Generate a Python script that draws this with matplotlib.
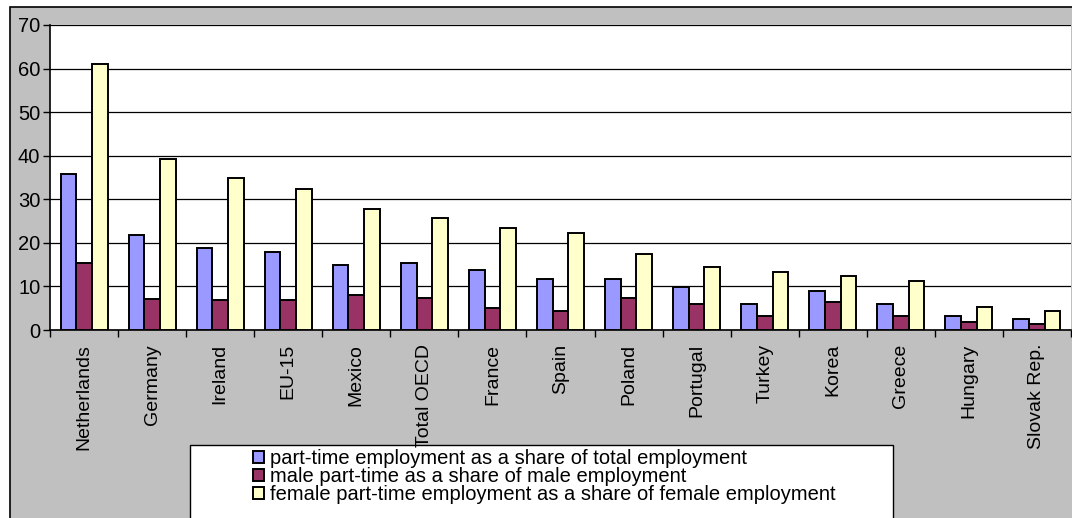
import matplotlib
matplotlib.use("Agg")
import matplotlib.pyplot as plt
import numpy as np
from matplotlib.patches import Rectangle

plt.rcParams["font.family"] = ["Liberation Sans", "DejaVu Sans"]

countries = ["Netherlands", "Germany", "Ireland", "EU-15", "Mexico", "Total OECD",
             "France", "Spain", "Poland", "Portugal", "Turkey", "Korea", "Greece",
             "Hungary", "Slovak Rep."]
total_share = [35.8, 21.7, 18.8, 17.9, 14.9, 15.4, 13.7, 11.6, 11.6, 9.9,
               6.0, 9.0, 6.0, 3.1, 2.6]
male_share = [15.3, 7.2, 6.9, 6.9, 8.1, 7.3, 5.1, 4.3, 7.3, 6.0,
              3.1, 6.5, 3.1, 1.8, 1.4]
female_share = [61.0, 39.2, 34.9, 32.4, 27.7, 25.6, 23.5, 22.2, 17.4, 14.5,
                13.3, 12.5, 11.2, 5.2, 4.4]
series_labels = ["part-time employment as a share of total employment",
                 "male part-time as a share of male employment",
                 "female part-time employment as a share of female employment"]
colors = ["#9999FF", "#993366", "#FFFFCC"]

W, H = 1072, 518
fig = plt.figure(figsize=(W / 100, H / 100), dpi=100)
fig.patch.set_facecolor("white")

# grey chart area with a black frame, behind everything
bg = fig.add_axes([0, 0, 1, 1], zorder=-10)
bg.set_axis_off()
bg.set_xlim(0, W)
bg.set_ylim(H, 0)
bg.add_patch(Rectangle((10, 7), W, H, facecolor="#C0C0C0",
                       edgecolor="black", linewidth=1.2))
# legend box
bg.add_patch(Rectangle((190, 445), 703, 80, facecolor="white",
                       edgecolor="black", linewidth=1.0))

ax = fig.add_axes([50 / W, 1 - 330 / H, 1021 / W, 305 / H])
ax.set_facecolor("white")

x = np.arange(len(countries))
w = 0.23
for i, (vals, c, lab) in enumerate(zip([total_share, male_share, female_share],
                                       colors, series_labels)):
    ax.bar(x + (i - 1) * w, vals, width=w, color=c, edgecolor="black",
           linewidth=1.4, label=lab, zorder=3)

ax.set_xlim(-0.5, len(countries) - 0.5)
ax.set_ylim(0, 70)
ax.set_yticks(range(0, 71, 10))
ax.yaxis.grid(True, color="black", linewidth=0.9, zorder=1)
ax.set_axisbelow(True)
ax.set_xticks(np.arange(-0.5, len(countries), 1.0), minor=False)
ax.set_xticklabels([])
ax.set_xticks(x, minor=True)
ax.set_xticklabels(countries, minor=True, rotation=90, fontsize=14,
                   ha="center", va="top")
ax.tick_params(axis="x", which="minor", length=0, pad=10)
ax.tick_params(axis="x", which="major", length=5, width=1, color="black")
ax.tick_params(axis="y", length=5, width=1, labelsize=14.5, pad=2)
for s in ["top", "right"]:
    ax.spines[s].set_visible(False)
ax.spines["left"].set_linewidth(1.2)
ax.spines["bottom"].set_linewidth(1.2)

leg = fig.legend(loc="upper left", bbox_to_anchor=(253 / W, 1 - 449 / H),
                 fontsize=14.5, frameon=False,
                 handlelength=0.55, handleheight=0.55, handletextpad=0.3,
                 labelspacing=-0.05, borderpad=0, borderaxespad=0)

fig.savefig("out.png", dpi=100, facecolor=fig.get_facecolor())
